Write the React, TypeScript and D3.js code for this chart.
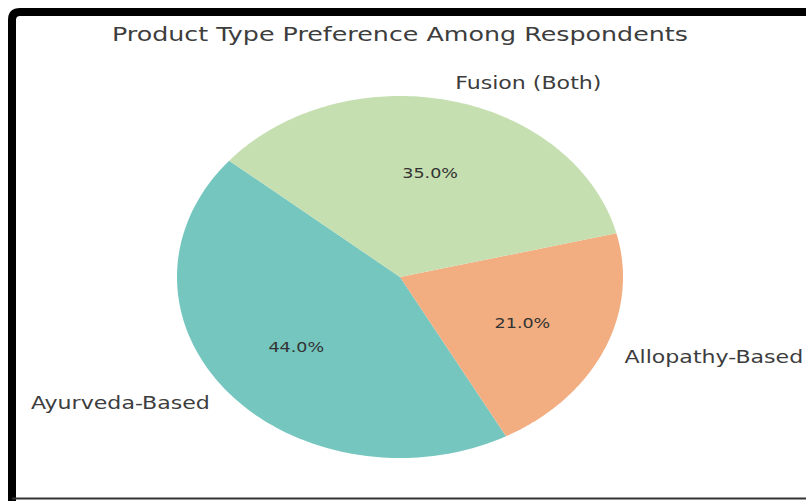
import React from 'react';
import * as d3 from 'd3';

const categories = ['Ayurveda-Based', 'Allopathy-Based', 'Fusion (Both)'];
const shares = [44, 21, 35];
const colors = ['#74c6bf', '#f2ad80', '#c5dfb1'];
const title = 'Product Type Preference Among Respondents';

const W = 806, H = 501;
const cx = 400, cy = 277, rx = 223, ry = 181;
const startAngle = 140; // degrees, counter-clockwise like matplotlib
const stretch = 1.3; // the screenshot is widened, text too

export default function App() {
  const total = d3.sum(shares);
  const pie = d3.pie<number>().sort(null).value(d => d)
    .startAngle(0).endAngle(2 * Math.PI)(shares);

  // d3 angle (clockwise from top) -> matplotlib angle (ccw from +x)
  const toMpl = (a: number) => startAngle + (a * 180) / Math.PI;
  const pt = (deg: number, r: number) => {
    const t = (deg * Math.PI) / 180;
    return [cx + Math.cos(t) * r * rx, cy - Math.sin(t) * r * ry];
  };

  const slicePath = (s: d3.PieArcDatum<number>) => {
    const a0 = toMpl(s.startAngle), a1 = toMpl(s.endAngle);
    const p = d3.path();
    p.moveTo(cx, cy);
    const steps = 120;
    for (let i = 0; i <= steps; i++) {
      const [x, y] = pt(a0 + ((a1 - a0) * i) / steps, 1);
      p.lineTo(x, y);
    }
    p.closePath();
    return p.toString();
  };

  const wide = (x: number, y: number) => `translate(${x},${y}) scale(${stretch},1)`;

  return (
    <div style={{ position: 'fixed', left: 0, top: 0 }}>
      <svg width={W} height={H} style={{ display: 'block', background: '#fff' }}>
        <path d={`M12,${H} L12,20 Q12,12 20,12 L${W + 10},12`} fill="none" stroke="#000" strokeWidth={8} />
        <line x1={12} x2={W} y1={498.5} y2={498.5} stroke="#333" strokeWidth={2} />
        <text transform={wide(cx, 41)} textAnchor="middle" fontFamily="DejaVu Sans" fontSize={19.5} fill="#3d3d3d">{title}</text>
        {pie.map((s, i) => (
          <path key={i} d={slicePath(s)} fill={colors[i]} />
        ))}
        {pie.map((s, i) => {
          const mid = toMpl((s.startAngle + s.endAngle) / 2);
          const [lx, ly] = pt(mid, 1.1);
          const [px, py] = pt(mid, 0.6);
          const anchor = Math.cos((mid * Math.PI) / 180) >= 0 ? 'start' : 'end';
          return (
            <g key={i} fontFamily="DejaVu Sans">
              <text transform={wide(lx, ly)} dy="0.35em" textAnchor={anchor} fontSize={17} fill="#3d3d3d">{categories[i]}</text>
              <text transform={wide(px, py + 2)} dy="0.35em" textAnchor="middle" fontSize={13.5} fill="#333">
                {((shares[i] / total) * 100).toFixed(1)}%
              </text>
            </g>
          );
        })}
      </svg>
    </div>
  );
}
